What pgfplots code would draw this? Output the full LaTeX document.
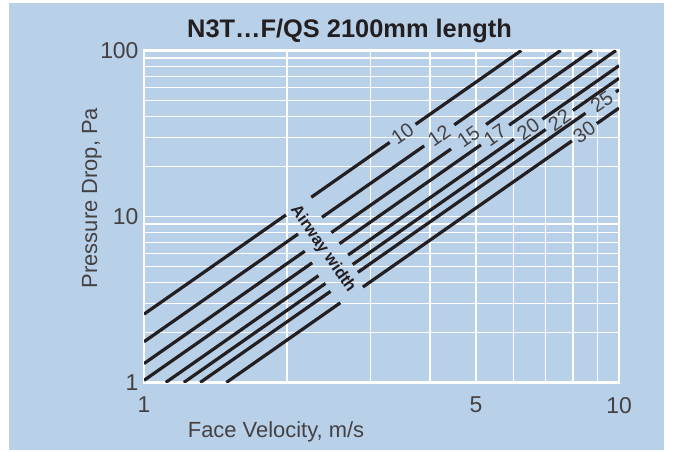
\documentclass[border=0pt]{standalone}
\usepackage{pgfplots}
\pgfplotsset{compat=1.18}
\usepackage{fontspec}
\setmainfont{Liberation Sans}
\definecolor{bgblue}{RGB}{185,208,233}
\definecolor{txt}{RGB}{35,31,32}
\begin{document}
\begin{tikzpicture}[x=1bp,y=1bp]
\path[use as bounding box] (0,0) rectangle (673,452);
\fill[bgblue] (9,2) rectangle (664,449);
\begin{axis}[
  at={(144bp,69.5bp)}, anchor=south west,
  scale only axis, width=475bp, height=332bp,
  xmode=log, ymode=log,
  xmin=1, xmax=10, ymin=1, ymax=100,
  xtick={1,5,10}, xticklabels={1,5,10},
  minor xtick={2,3,4,6,7,8,9},
  ytick={1,10,100}, yticklabels={1,10,100},
  minor ytick={2,3,4,5,6,7,8,9,20,30,40,50,60,70,80,90},
  grid=both,
  major grid style={white, line width=1.6bp},
  minor grid style={white, line width=1.3bp},
  tick style={draw=none},
  axis line style={white, line width=2.5bp},
  ticklabel style={font=\fontsize{23}{23}\selectfont, text=txt!85},
  xticklabel style={anchor=north, yshift=-11bp},
  yticklabel style={anchor=east, xshift=-2bp},
]
% line 10
\addplot[txt, line width=3.2bp] coordinates {(1,2.58) (1.99,10.22)};
\addplot[txt, line width=3.2bp] coordinates {(2.25,13.06) (3.29,27.93)};
\addplot[txt, line width=3.2bp] coordinates {(3.73,35.90) (6.226,100)};
% line 12
\addplot[txt, line width=3.2bp] coordinates {(1,1.76) (2.11,7.84)};
\addplot[txt, line width=3.2bp] coordinates {(2.37,9.89) (3.89,26.63)};
\addplot[txt, line width=3.2bp] coordinates {(4.50,35.64) (7.538,100)};
% line 15
\addplot[txt, line width=3.2bp] coordinates {(1,1.3) (2.18,6.18)};
\addplot[txt, line width=3.2bp] coordinates {(2.48,8.0) (4.43,25.51)};
\addplot[txt, line width=3.2bp] coordinates {(5.25,35.83) (8.771,100)};
% line 17
\addplot[txt, line width=3.2bp] coordinates {(1,1.03) (2.26,5.26)};
\addplot[txt, line width=3.2bp] coordinates {(2.58,6.86) (5.12,27.0)};
\addplot[txt, line width=3.2bp] coordinates {(5.87,35.49) (9.853,100)};
% line 20
\addplot[txt, line width=3.2bp] coordinates {(1.111,1) (2.33,4.40)};
\addplot[txt, line width=3.2bp] coordinates {(2.69,5.86) (6.01,29.26)};
\addplot[txt, line width=3.2bp] coordinates {(6.90,38.56) (10,81)};
% line 22
\addplot[txt, line width=3.2bp] coordinates {(1.2127,1) (2.41,3.95)};
\addplot[txt, line width=3.2bp] coordinates {(2.75,5.14) (7.01,33.42)};
\addplot[txt, line width=3.2bp] coordinates {(8.0,43.52) (10,68)};
% line 25
\addplot[txt, line width=3.2bp] coordinates {(1.313,1) (2.47,3.54)};
\addplot[txt, line width=3.2bp] coordinates {(2.82,4.61) (8.5,41.9)};
\addplot[txt, line width=3.2bp] coordinates {(9.85,56.27) (10,58)};
% line 30
\addplot[txt, line width=3.2bp] coordinates {(1.4907,1) (2.59,3.02)};
\addplot[txt, line width=3.2bp] coordinates {(2.89,3.76) (7.96,28.51)};
\addplot[txt, line width=3.2bp] coordinates {(8.98,36.29) (10,45)};
% labels
\tikzset{lbl/.style={rotate=35, text=txt!85, font=\fontsize{20}{20}\selectfont, inner sep=0pt}}
\node[lbl] at (axis cs:3.50,31.6) {10};
\node[lbl] at (axis cs:4.18,30.75) {12};
\node[lbl] at (axis cs:4.82,30.2) {15};
\node[lbl] at (axis cs:5.48,30.93) {17};
\node[lbl] at (axis cs:6.44,33.6) {20};
\node[lbl] at (axis cs:7.49,38.15) {22};
\node[lbl] at (axis cs:9.2,49.1) {25};
\node[lbl] at (axis cs:8.45,32.13) {30};
\node[rotate=-55, text=txt, font=\bfseries\fontsize{16.5}{16.5}\selectfont, inner sep=0pt] at (axis cs:2.38,6.37) {Airway width};
\end{axis}
\node[anchor=base west, text=txt, font=\bfseries\fontsize{25.5}{25.5}\selectfont, inner sep=0pt] at (187,414.7) {N3T…F/QS 2100mm length};
\node[rotate=90, anchor=base, text=txt!85, font=\fontsize{22}{22}\selectfont, inner sep=0pt] at (97,254) {Pressure Drop, Pa};
\node[anchor=base, text=txt!85, font=\fontsize{22}{22}\selectfont, inner sep=0pt] at (276,14) {Face Velocity, m/s};
\end{tikzpicture}
\end{document}
